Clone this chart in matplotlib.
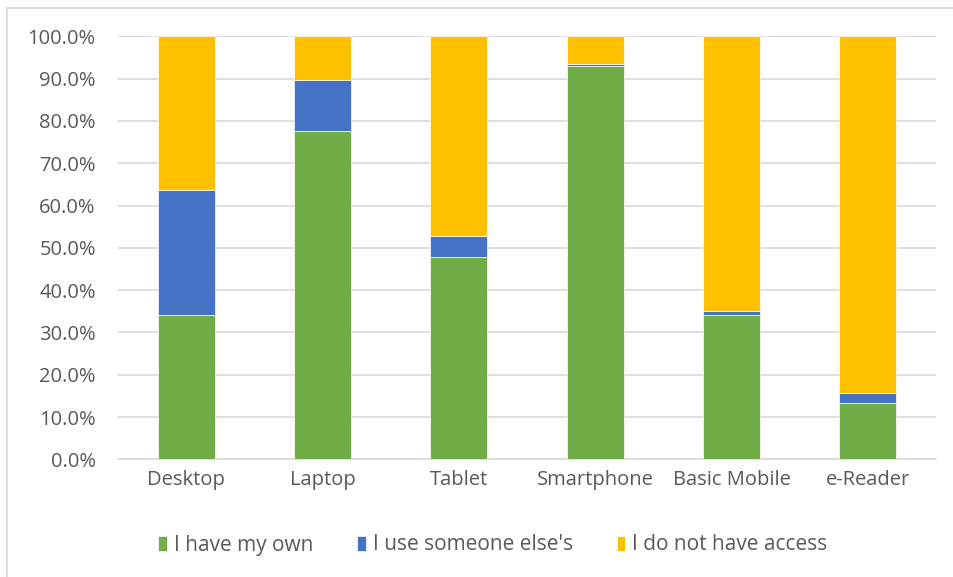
import matplotlib.pyplot as plt
import matplotlib.lines as mlines
import numpy as np

categories = ["Desktop", "Laptop", "Tablet", "Smartphone", "Basic Mobile", "e-Reader"]
own = [34.1, 77.6, 47.8, 93.0, 34.1, 13.4]
someone = [29.6, 12.1, 5.1, 0.4, 0.9, 2.3]
no_access = [100 - a - b for a, b in zip(own, someone)]
series = ["I have my own", "I use someone else's", "I do not have access"]
colors = ["#70AD47", "#4472C4", "#FFC000"]

plt.rcParams['font.family'] = ['Open Sans', 'DejaVu Sans']

fig = plt.figure(figsize=(9.54, 5.77), dpi=100)
ax = fig.add_axes([118 / 954, 1 - 459.3 / 577, (936 - 118) / 954, (459.3 - 36.4) / 577])

x = np.arange(len(categories))
bottom = np.zeros(len(categories))
for vals, lab, col in zip([own, someone, no_access], series, colors):
    ax.bar(x, vals, bottom=bottom, width=0.42, color=col, label=lab,
           edgecolor="white", linewidth=0.5, zorder=3)
    bottom += np.array(vals)

ax.set_xlim(-0.5, len(categories) - 0.5)
ax.set_ylim(0, 100)
ax.set_yticks(np.arange(0, 101, 10))
ax.set_yticklabels([f"{v:.1f}%" for v in range(0, 101, 10)])
ax.set_xticks(x)
ax.set_xticklabels(categories)
ax.yaxis.grid(True, color="#D9D9D9", linewidth=1.2, zorder=0)
ax.tick_params(axis="both", length=0, labelsize=14.5, colors="#595959")
ax.tick_params(axis="y", pad=16)
ax.tick_params(axis="x", pad=8)
for s in ["top", "right", "left"]:
    ax.spines[s].set_visible(False)
ax.spines["bottom"].set_color("#D9D9D9")
ax.spines["bottom"].set_linewidth(1.2)

fig.legend(loc="center", bbox_to_anchor=(493 / 954, 1 - 545 / 577), ncol=3, frameon=False,
           fontsize=15, labelcolor="#595959", handlelength=0.4, handleheight=0.75,
           handletextpad=0.35, columnspacing=2.1)

# outer chart border (top and left visible)
fig.add_artist(mlines.Line2D([7.5 / 954, 1], [1 - 7.5 / 577] * 2, color="#D9D9D9", linewidth=1.2))
fig.add_artist(mlines.Line2D([7.5 / 954] * 2, [0, 1 - 7.5 / 577], color="#D9D9D9", linewidth=1.2))

fig.savefig("out.png", dpi=100)
